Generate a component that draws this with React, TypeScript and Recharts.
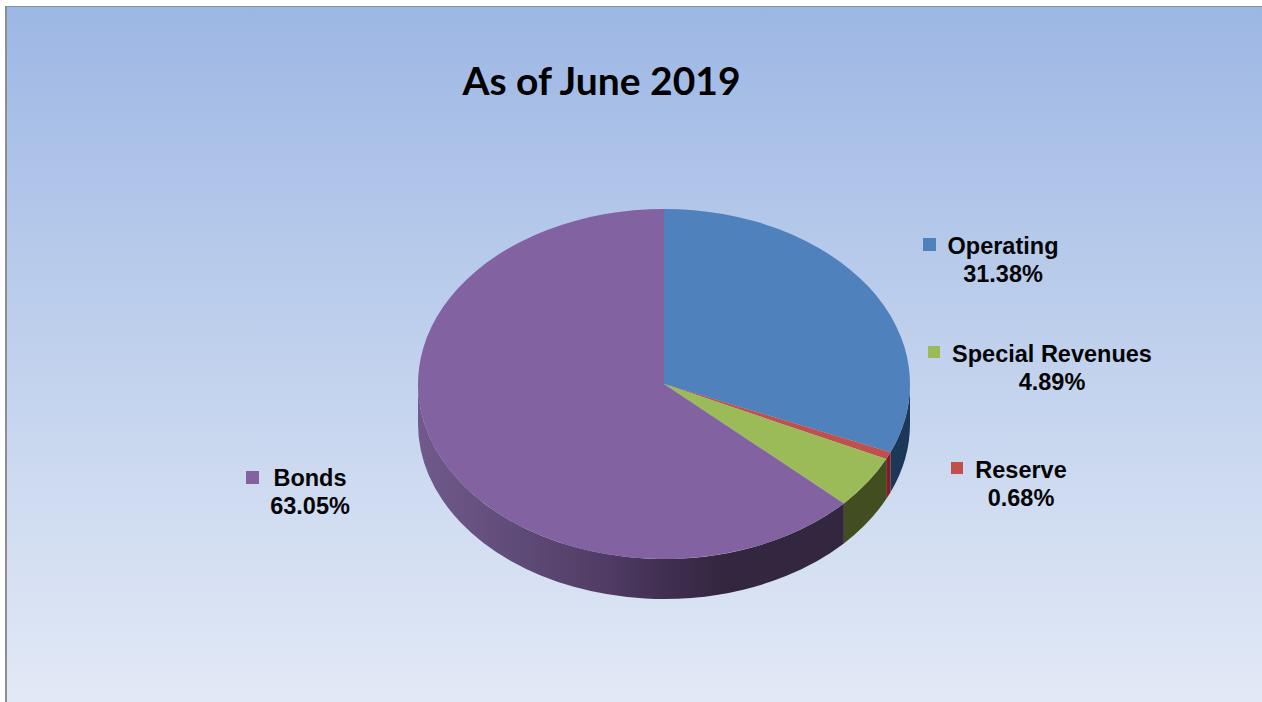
import { PieChart, Pie } from 'recharts'

const categories = ['Operating', 'Reserve', 'Special Revenues', 'Bonds']
const shares = [31.38, 0.68, 4.89, 63.05]
const topColors = ['#4f81bd', '#c0504d', '#9bbb59', '#8362a1']

const data = categories.map((name, i) => ({ name, value: shares[i], fill: topColors[i] }))

// Tilt of the disc: vertical squash of the circle and thickness of the rim
const SQUASH = 175 / 246
const DEPTH = 40

// Rim shading per slice, left to right across the disc
const rimStops: Record<string, [number, string][]> = {
  Operating: [[0, '#1c3757'], [1, '#1c3757']],
  Reserve: [[0, '#7d1f20'], [1, '#7d1f20']],
  'Special Revenues': [[0, '#434e20'], [1, '#434e20']],
  Bonds: [
    [0, '#705a8c'],
    [0.25, '#5e4a76'],
    [0.45, '#4f3b63'],
    [0.6, '#3f2d4e'],
    [0.72, '#33263f'],
    [1, '#33263f']
  ]
}

// Marker and text anchors for each callout
const callouts: Record<string, { mx: number; my: number; size: number; tx: number; y1: number; y2: number }> = {
  Operating: { mx: 923, my: 238, size: 13, tx: 1003, y1: 254, y2: 282 },
  'Special Revenues': { mx: 928, my: 346, size: 12, tx: 1052, y1: 362, y2: 390 },
  Reserve: { mx: 951, my: 462, size: 12, tx: 1021, y1: 478, y2: 506 },
  Bonds: { mx: 246, my: 471, size: 13, tx: 310, y1: 486, y2: 514 }
}

const RAD = Math.PI / 180

function rimPoint(cx: number, cy: number, r: number, deg: number) {
  return { x: cx + r * Math.cos(deg * RAD), y: cy - r * SQUASH * Math.sin(deg * RAD) }
}

// Draws one slice as an elliptical wedge, plus its rim where it faces the viewer
function DiscSlice(props: any) {
  const { cx, cy, outerRadius: r, startAngle, endAngle, fill, name, index } = props
  const ry = r * SQUASH
  const a = rimPoint(cx, cy, r, startAngle)
  const b = rimPoint(cx, cy, r, endAngle)
  const large = Math.abs(startAngle - endAngle) > 180 ? 1 : 0
  const top = `M${cx},${cy} L${a.x},${a.y} A${r},${ry} 0 ${large} 1 ${b.x},${b.y} Z`

  const from = Math.min(startAngle, 0)
  const to = Math.max(endAngle, -180)
  let rim = null
  if (from > to) {
    const p = rimPoint(cx, cy, r, from)
    const q = rimPoint(cx, cy, r, to)
    const d =
      `M${p.x},${p.y} A${r},${ry} 0 0 1 ${q.x},${q.y} L${q.x},${q.y + DEPTH} ` +
      `A${r},${ry} 0 0 0 ${p.x},${p.y + DEPTH} Z`
    const id = `rim-${index}`
    rim = (
      <>
        <defs>
          <linearGradient id={id} gradientUnits="userSpaceOnUse" x1={q.x} x2={p.x} y1={0} y2={0}>
            {rimStops[name].map(([o, c]) => (
              <stop key={o} offset={o} stopColor={c} />
            ))}
          </linearGradient>
        </defs>
        <path d={d} fill={`url(#${id})`} />
      </>
    )
  }
  return (
    <g>
      {rim}
      <path d={top} fill={fill} />
    </g>
  )
}

function Callout(props: any) {
  const { name, value, fill } = props
  const c = callouts[name]
  const font = { fontFamily: '"Liberation Sans", Arial, sans-serif', fontWeight: 700, fontSize: 23.5, fill: '#050505' }
  return (
    <g>
      <rect x={c.mx} y={c.my} width={c.size} height={c.size} fill={fill} />
      <text x={c.tx} y={c.y1} textAnchor="middle" {...font}>{name}</text>
      <text x={c.tx} y={c.y2} textAnchor="middle" {...font}>{value.toFixed(2)}%</text>
    </g>
  )
}

export default function App() {
  return (
    <div
      style={{
        position: 'absolute',
        left: 0,
        top: 0,
        width: 1262,
        height: 702,
        overflow: 'hidden',
        background: '#fff'
      }}
    >
      <div
        style={{
          position: 'absolute',
          left: 5,
          top: 6,
          right: 0,
          bottom: 0,
          borderLeft: '2px solid #8e8e8e',
          borderTop: '1.5px solid #8e8e8e',
          background: 'linear-gradient(180deg, #9db7e4 0%, #b4c8ea 32%, #c9d7ef 62%, #e2e9f6 100%)'
        }}
      />
      <div style={{ position: 'absolute', left: 0, top: 0 }}>
        <PieChart width={1262} height={702} margin={{ top: 0, right: 0, bottom: 0, left: 0 }}>
          <text
            x={601.5}
            y={95}
            textAnchor="middle"
            fontFamily="Lato, sans-serif"
            fontWeight={700}
            fontSize={39}
            fill="#000"
          >
            As of June 2019
          </text>
          <Pie
            data={data}
            dataKey="value"
            nameKey="name"
            cx={664}
            cy={384}
            outerRadius={246}
            startAngle={90}
            endAngle={-270}
            paddingAngle={0}
            stroke="none"
            shape={DiscSlice}
            label={Callout}
            labelLine={false}
            isAnimationActive={false}
          />
        </PieChart>
      </div>
    </div>
  )
}
